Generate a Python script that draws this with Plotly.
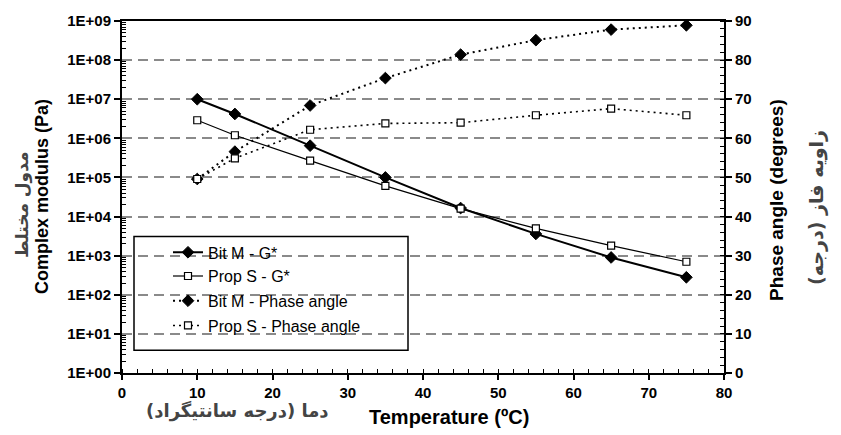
import plotly.graph_objects as go

temperature = [10, 15, 25, 35, 45, 55, 65, 75]
bitm_gstar = [1.0e7, 4.2e6, 6.5e5, 1.0e5, 1.65e4, 3.6e3, 9.0e2, 2.8e2]
props_gstar = [2.9e6, 1.2e6, 2.7e5, 6.1e4, 1.6e4, 5.0e3, 1.8e3, 7.0e2]
bitm_phase = [49.6, 56.6, 68.4, 75.4, 81.4, 85.1, 87.8, 88.9]
props_phase = [49.6, 54.9, 62.2, 63.8, 64.0, 65.9, 67.6, 65.9]

series_names = ["Bit M - G*", "Prop S - G*", "Bit M - Phase angle", "Prop S - Phase angle"]

log_ticks = [10 ** k for k in range(0, 10)]
log_ticktext = ["1E+%02d" % k for k in range(0, 10)]
minor_log = [m * 10 ** k for k in range(0, 9) for m in range(2, 10)]

L, R, T, B = 122, 117, 17, 62
W, H = 841, 435
PW, PH = W - L - R, H - T - B


def px(x):
    return (x - L) / PW


def py(y):
    return (H - B - y) / PH


fig = go.Figure()
diamond = dict(symbol="diamond", size=9, color="black", line=dict(color="black", width=1))
square = dict(symbol="square", size=7, color="white", line=dict(color="black", width=1.2))

fig.add_trace(go.Scatter(x=temperature, y=bitm_gstar, name=series_names[0], mode="lines+markers",
                         line=dict(color="black", width=2), marker=diamond, legend="legend"))
fig.add_trace(go.Scatter(x=temperature, y=props_gstar, name=series_names[1], mode="lines+markers",
                         line=dict(color="black", width=1.2), marker=square, legend="legend2"))
fig.add_trace(go.Scatter(x=temperature, y=bitm_phase, name=series_names[2], mode="lines+markers",
                         line=dict(color="black", width=2, dash="2px,4px"), marker=diamond,
                         yaxis="y2", legend="legend3"))
fig.add_trace(go.Scatter(x=temperature, y=props_phase, name=series_names[3], mode="lines+markers",
                         line=dict(color="black", width=1.6, dash="2px,4px"), marker=square,
                         yaxis="y2", legend="legend4"))

tickfont = dict(family="Liberation Sans, Arial", size=15, color="black", weight="bold")
legfont = dict(family="Liberation Sans, Arial", size=16, color="black")

legend_rows = [251, 275, 300, 325]
leg = {}
for i, key in enumerate(["legend", "legend2", "legend3", "legend4"]):
    leg[key] = dict(x=px(168), y=py(legend_rows[i]), xanchor="left", yanchor="middle",
                    bgcolor="rgba(0,0,0,0)", borderwidth=0, font=legfont)

fig.update_layout(
    width=W, height=H,
    margin=dict(l=L, r=R, t=T, b=B),
    paper_bgcolor="white", plot_bgcolor="white",
    showlegend=True,
    xaxis=dict(range=[0, 80], dtick=10, tick0=0, showgrid=False, zeroline=False,
               showline=True, linecolor="black", linewidth=2, mirror=True,
               ticks="outside", ticklen=5, tickwidth=1.5, tickcolor="black",
               minor=dict(dtick=2, ticks="inside", ticklen=4, tickwidth=1, tickcolor="black"),
               tickfont=tickfont),
    yaxis=dict(type="log", range=[0, 9], tickvals=log_ticks, ticktext=log_ticktext,
               showgrid=True, gridcolor="#8a8a8a", gridwidth=1.5, griddash="10px,6px",
               zeroline=False, showline=True, linecolor="black", linewidth=2,
               ticks="outside", ticklen=6, tickwidth=1.5, tickcolor="black",
               minor=dict(tickvals=minor_log, ticks="inside", ticklen=4, tickwidth=1,
                          tickcolor="black", showgrid=False),
               tickfont=tickfont),
    yaxis2=dict(range=[0, 90], dtick=10, tick0=0, overlaying="y", side="right",
                showgrid=False, zeroline=False, showline=True, linecolor="black", linewidth=2,
                ticks="outside", ticklen=6, tickwidth=1.5, tickcolor="black",
                minor=dict(dtick=2, ticks="inside", ticklen=4, tickwidth=1, tickcolor="black"),
                tickfont=tickfont),
    **leg,
)

# legend frame
fig.add_shape(type="rect", xref="paper", yref="paper",
              x0=px(134), x1=px(408), y0=py(350), y1=py(235),
              line=dict(color="black", width=1.5), fillcolor="rgba(255,255,255,0)", layer="above")

title_font = dict(family="Liberation Sans, Arial", size=18, color="black", weight="bold")
fa_font = dict(family="DejaVu Sans", size=16, color="#444444", weight="bold")

annos = [
    dict(text="Complex modulus (Pa)", x=px(42), y=py(195), textangle=-90, font=title_font),
    dict(text="مدول مختلط", x=px(23), y=py(203), textangle=-90, font=dict(fa_font, size=17)),
    dict(text="Phase angle (degrees)", x=px(777), y=py(198), textangle=-90,
         font=dict(title_font, size=19)),
    dict(text="زاویه فاز (درجه)", x=px(817), y=py(206), textangle=-90, font=dict(fa_font, size=19)),
    dict(text="Temperature (ºC)", x=px(449), y=py(418), font=dict(title_font, size=20)),
    dict(text="دما (درجه سانتیگراد)", x=px(237), y=py(411), font=dict(fa_font, size=18)),
]
for a in annos:
    fig.add_annotation(xref="paper", yref="paper", showarrow=False,
                       xanchor="center", yanchor="middle", **a)

fig.write_html("out.html")
